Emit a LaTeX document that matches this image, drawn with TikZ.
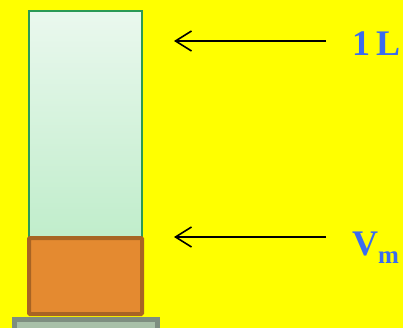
\documentclass[tikz,border=0pt]{standalone}
\usepackage{fontspec}
\setmainfont{Liberation Serif}
\usetikzlibrary{arrows.meta}
\definecolor{bgyellow}{HTML}{FFFF00}
\definecolor{tubeedge}{HTML}{2A9A56}
\definecolor{tubetop}{HTML}{EAF8EE}
\definecolor{tubebot}{HTML}{C0EDCB}
\definecolor{solidfill}{HTML}{E48A30}
\definecolor{solidedge}{HTML}{A86424}
\definecolor{baseedge}{HTML}{7E8E80}
\definecolor{basefill}{HTML}{A8C0A8}
\definecolor{labelblue}{HTML}{3A6CF0}
\tikzset{
  pointer/.style={draw=black, line width=1.6pt, -{Straight Barb[length=16pt,width=20pt,line width=1.6pt]}},
  tag/.style={text=labelblue, font=\bfseries\fontsize{36}{40}\selectfont, anchor=base west, inner sep=0pt}
}
\begin{document}
\begin{tikzpicture}[x=1pt,y=-1pt]
\fill[bgyellow] (0,0) rectangle (403,328);
\useasboundingbox (0,0) rectangle (403,328);
% graduated cylinder
\shade[top color=tubetop, bottom color=tubebot] (29,11) rectangle (142,238);
\draw[tubeedge, line width=1.6pt] (29,238) -- (29,11) -- (142,11) -- (142,238);
% solid block
\draw[solidedge, fill=solidfill, line width=4pt, rounded corners=1pt] (29,238) rectangle (142,314);
% base plate
\fill[baseedge] (12,317) rectangle (160,330);
\fill[basefill] (17,322) rectangle (155,330);
% labels and pointers
\node[tag] (one) at (352,55.5) {1\,L};
\node[tag] (vm) at (352,255) {V\raisebox{-8pt}{\fontsize{25}{25}\selectfont m}};
\coordinate (tA) at (174,41);
\coordinate (tB) at (174,237);
\draw[pointer] (326,41) -- (tA);
\draw[pointer] (326,237) -- (tB);
\end{tikzpicture}
\end{document}
